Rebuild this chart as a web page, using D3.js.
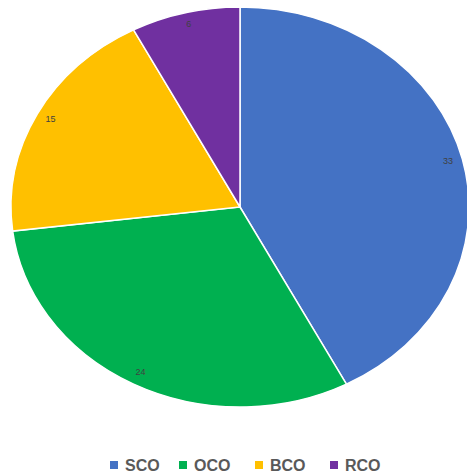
<!DOCTYPE html>
<html>
<head>
<meta charset="utf-8">
<script src="https://cdnjs.cloudflare.com/ajax/libs/d3/7.8.5/d3.min.js"></script>
<style>
  html, body { margin: 0; padding: 0; background: #fff; }
  svg { display: block; }
</style>
</head>
<body>
<svg id="chart" width="467" height="475"></svg>
<script>
// Category names, slice values and colours
const categories = ["SCO", "OCO", "BCO", "RCO"];
const values = [33, 24, 15, 6];
const colors = ["#4472C4", "#00B050", "#FFC000", "#7030A0"];

const W = 467, H = 475;
const cx = 240, cy = 207;
const ry = 200, rx = 229;          // pie is stretched horizontally
const labelFrac = 0.935;

const svg = d3.select("#chart");

const data = categories.map((c, i) => ({ name: c, value: values[i], color: colors[i] }));

const pie = d3.pie().value(d => d.value).sort(null);
const arcs = pie(data);
const arc = d3.arc().innerRadius(0).outerRadius(ry);

const g = svg.append("g")
  .attr("transform", `translate(${cx},${cy}) scale(${rx / ry},1)`);

g.selectAll("path")
  .data(arcs)
  .join("path")
  .attr("d", arc)
  .attr("fill", d => d.data.color)
  .attr("stroke", "#fff")
  .attr("stroke-width", 1.5)
  .attr("vector-effect", "non-scaling-stroke");

// Value labels near the outer edge of each slice
svg.append("g").selectAll("text")
  .data(arcs)
  .join("text")
  .attr("x", d => cx + rx * labelFrac * Math.sin((d.startAngle + d.endAngle) / 2))
  .attr("y", d => cy - ry * labelFrac * Math.cos((d.startAngle + d.endAngle) / 2) - 1)
  .attr("text-anchor", "middle")
  .attr("dominant-baseline", "central")
  .attr("font-family", "Liberation Sans, Arial, sans-serif")
  .attr("font-size", 9)
  .attr("fill", "#404040")
  .text(d => d.data.value);

// Legend
const legendX = [110, 179, 255, 330];
const legend = svg.append("g");
const items = legend.selectAll("g")
  .data(data)
  .join("g")
  .attr("transform", (d, i) => `translate(${legendX[i]},461)`);
items.append("rect")
  .attr("width", 8).attr("height", 8)
  .attr("fill", d => d.color);
items.append("text")
  .attr("x", 15).attr("y", 10)
  .attr("font-family", "Liberation Sans, Arial, sans-serif")
  .attr("font-weight", "bold")
  .attr("font-size", 16)
  .attr("fill", "#595959")
  .text(d => d.name);
</script>
</body>
</html>
